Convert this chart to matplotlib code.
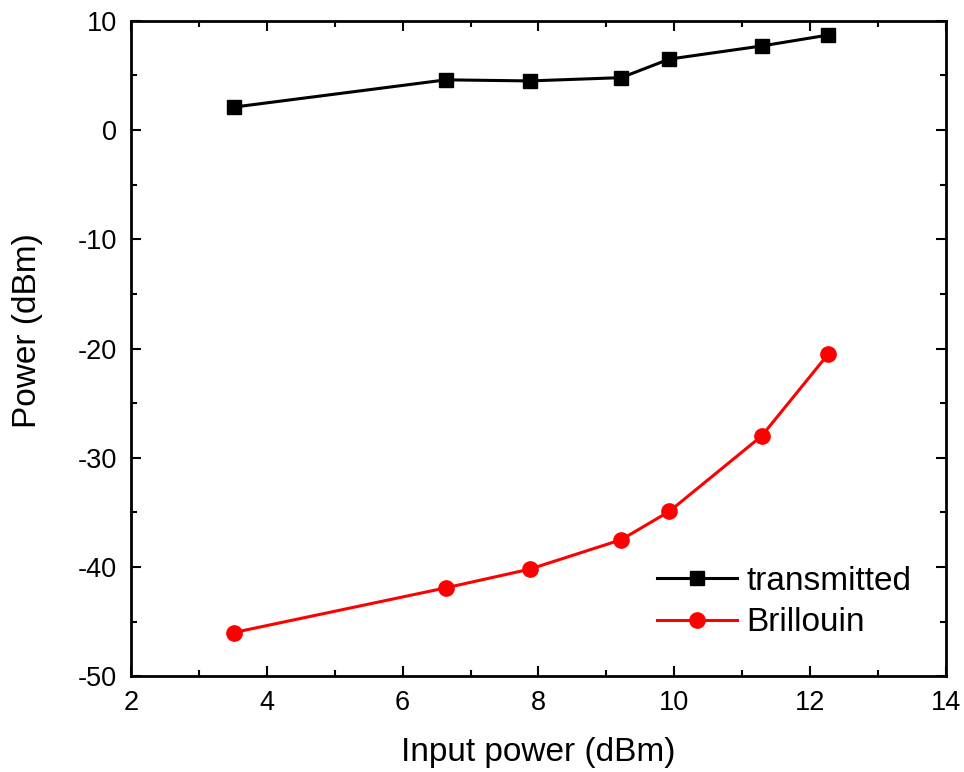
import matplotlib.pyplot as plt
from matplotlib.ticker import MultipleLocator

plt.rcParams['font.family'] = ['Liberation Sans', 'DejaVu Sans']
plt.rcParams['axes.unicode_minus'] = False

# input power (dBm) and measured output powers (dBm)
input_power = [3.51, 6.64, 7.87, 9.22, 9.93, 11.29, 12.27]
transmitted = [2.1, 4.6, 4.5, 4.8, 6.5, 7.7, 8.7]
brillouin = [-46.0, -41.9, -40.2, -37.5, -34.9, -28.0, -20.5]

fig = plt.figure(figsize=(9.64, 7.72), dpi=100)
ax = fig.add_axes([0.136, 0.124, 0.845, 0.849])

ax.plot(input_power, transmitted, color='black', marker='s', markersize=10,
        linewidth=2.2, label='transmitted')
ax.plot(input_power, brillouin, color='red', marker='o', markersize=11,
        linewidth=2.2, label='Brillouin')

ax.set_xlim(2, 14)
ax.set_ylim(-50, 10)
ax.xaxis.set_major_locator(MultipleLocator(2))
ax.xaxis.set_minor_locator(MultipleLocator(1))
ax.yaxis.set_major_locator(MultipleLocator(10))
ax.yaxis.set_minor_locator(MultipleLocator(5))
ax.tick_params(which='both', direction='in', top=True, right=True,
               width=1.5, labelsize=19.5)
ax.tick_params(which='major', length=7, pad=10)
ax.tick_params(which='minor', length=4)
for spine in ax.spines.values():
    spine.set_linewidth(2)

ax.set_xlabel('Input power (dBm)', fontsize=24, labelpad=15)
ax.set_ylabel('Power (dBm)', fontsize=24)
ax.yaxis.set_label_coords(-0.108, 0.528)

ax.legend(loc='lower right', frameon=False, fontsize=24, handlelength=2.4,
          handletextpad=0.3, labelspacing=0.32, bbox_to_anchor=(0.995, 0.012))

fig.savefig('out.png', dpi=100)
